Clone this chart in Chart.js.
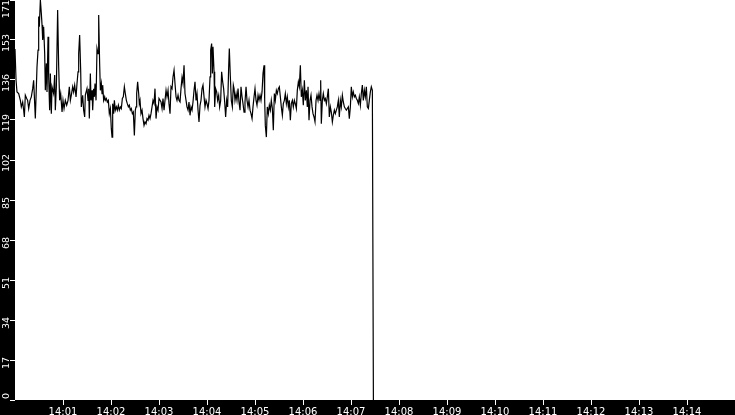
<!DOCTYPE html>
<html>
<head>
<meta charset="utf-8">
<script src="https://cdn.jsdelivr.net/npm/chart.js@4.4.1/dist/chart.umd.min.js"></script>
<style>
  html, body { margin: 0; padding: 0; background: #000; }
  canvas { display: block; }
</style>
</head>
<body>
<canvas id="rateChart" width="735" height="415"></canvas>
<script>
// seconds after 14:00:00
const secs = [
  0, 1.3, 2.5, 4.6, 6.7, 7.9, 9.6, 10.8, 11.7, 12.9,
  14.6, 15.8, 17.1, 18.8, 20.4, 22.1, 23.3, 24.6, 25.4, 26.3,
  27.5, 28.8, 29.6, 30.4, 31.7, 32.9, 33.8, 34.6, 35.8, 37.1,
  37.9, 39.2, 40, 41.3, 42.1, 43.3, 44.2, 45.4, 46.3, 48.3,
  49.6, 50.4, 51.7, 53.3, 54.6, 55.8, 57.1, 58.8, 60, 61.3,
  62.9, 64.6, 66.3, 67.9, 69.2, 70.4, 72.1, 73.3, 74.6, 76.3,
  77.5, 78.8, 79.6, 80.8, 82.1, 82.9, 84.6, 85.8, 87.1, 87.9,
  90, 91.3, 92.1, 92.9, 94.2, 95, 96.3, 97.1, 98.3, 99.2,
  100, 101.3, 102.5, 103.8, 104.6, 105.8, 106.7, 107.9, 108.8, 109.6,
  110.8, 112.1, 112.9, 114.2, 115.4, 116.7, 117.9, 119.2, 120.4, 121.3,
  122.1, 123.3, 124.2, 125.4, 126.7, 127.9, 129.2, 130.4, 131.7, 132.9,
  134.2, 135.4, 136.7, 137.9, 139.2, 140.4, 141.7, 142.9, 144.2, 145.4,
  146.7, 147.9, 149.2, 150.4, 151.3, 152.1, 153.3, 154.6, 155.4, 156.3,
  157.5, 158.8, 160, 161.3, 162.5, 163.8, 165, 166.3, 167.5, 168.8,
  170, 171.3, 172.5, 173.8, 175, 176.3, 177.5, 178.8, 180, 182.5,
  183.8, 185, 186.3, 187.5, 188.8, 190, 191.3, 192.5, 193.8, 195,
  196.3, 197.5, 198.8, 200, 201.3, 202.5, 203.8, 205, 206.3, 207.5,
  208.8, 210, 211.3, 212.5, 213.8, 215, 216.3, 217.5, 218.8, 220,
  221.3, 222.5, 223.8, 225, 226.3, 227.5, 228.8, 230, 231.3, 232.5,
  233.8, 235, 236.3, 237.5, 238.8, 240, 241.3, 242.5, 243.8, 244.6,
  245.8, 246.7, 247.5, 248.8, 249.6, 250.8, 252.1, 253.3, 254.6, 255.8,
  257.1, 258.3, 259.6, 260.8, 262.1, 263.3, 264.6, 265.8, 267.1, 267.9,
  269.2, 270.4, 271.7, 272.9, 273.8, 275, 276.3, 277.5, 278.8, 280,
  281.3, 282.5, 283.8, 285, 286.3, 287.5, 288.8, 290, 291.3, 292.5,
  293.8, 295, 296.3, 297.5, 298.8, 300, 301.3, 302.5, 303.8, 305,
  306.3, 307.5, 308.8, 310, 311.3, 312.1, 312.9, 314.2, 315.4, 316.7,
  317.9, 319.2, 320.4, 321.7, 322.9, 324.2, 325.4, 326.7, 327.9, 329.2,
  330.4, 331.7, 332.9, 334.2, 335.4, 336.7, 337.9, 339.2, 340.4, 341.7,
  342.9, 344.2, 345.4, 346.7, 347.9, 349.2, 350.4, 351.7, 352.9, 354.2,
  355.4, 356.7, 357.9, 359.2, 360.4, 361.7, 362.9, 364.2, 365.4, 366.3,
  367.5, 368.8, 370, 371.3, 372.5, 373.8, 375, 376.3, 377.5, 378.8,
  380, 381.3, 382.1, 382.9, 384.2, 385.4, 386.7, 387.9, 389.2, 390.4,
  391.7, 392.9, 394.2, 395.4, 396.7, 397.9, 399.2, 400.4, 401.7, 402.9,
  404.2, 405.4, 406.7, 407.9, 409.2, 410.4, 411.7, 412.9, 414.2, 415.4,
  416.7, 417.9, 419.2, 420.4, 421.7, 422.9, 424.2, 425.4, 426.7, 427.9,
  429.2, 430.4, 431.7, 432.9, 434.2, 435.4, 436.7, 437.9, 439.2, 440.4,
  441.7, 442.9, 444.2, 445.4, 446.7, 448
];

const vals = [
  150, 136.7, 131.7, 131, 128.1, 125.3, 127.4, 123.9, 121, 130.3,
  128.9, 128.1, 124.6, 128.1, 129.6, 133.1, 136.7, 126.7, 120.3, 129.6,
  142.4, 149.6, 163.9, 159.6, 171, 165.3, 160.3, 153.9, 159.6, 148.1,
  132.4, 143.9, 131.7, 155.3, 138.1, 123.9, 139.6, 122.4, 133.9, 131,
  138.9, 123.9, 133.9, 166.7, 142.4, 128.1, 131, 123.1, 128.1, 124.6,
  128.1, 126, 128.1, 133.9, 128.1, 130.3, 133.9, 131.7, 134.6, 129.6,
  135.3, 140.3, 148.1, 156, 141, 125.3, 130.3, 123.9, 121, 130.3,
  133.1, 128.1, 133.1, 120.3, 139.6, 128.1, 132.4, 123.9, 133.1, 129.6,
  135.3, 128.1, 150.3, 148.1, 164.6, 143.9, 132.4, 135.3, 131, 134.6,
  128.1, 129.6, 128.1, 128.9, 127.4, 128.1, 122.4, 124.6, 116, 112.4,
  126.7, 122.4, 128.1, 123.9, 125.3, 123.9, 126, 123.9, 125.3, 124.6,
  128.9, 129.6, 133.9, 131, 128.1, 126.7, 125.3, 126, 123.9, 124.6,
  122.4, 123.1, 113.1, 123.9, 125.3, 131, 136, 131, 126.7, 128.1,
  122.4, 123.9, 120.3, 117.4, 118.9, 118.1, 120.3, 119.6, 121.7, 120.3,
  122.4, 125.3, 128.1, 126.7, 133.1, 120.3, 125.3, 123.9, 128.9, 127.4,
  124.6, 128.9, 123.9, 128.1, 132.4, 129.6, 132.4, 126.7, 122.4, 133.9,
  133.1, 138.1, 141, 135.3, 129.6, 128.1, 130.3, 128.1, 127.4, 133.1,
  137.9, 135.3, 143.1, 131, 128.1, 125.3, 123.9, 127.4, 121.7, 125.3,
  123.9, 127.4, 132.4, 136, 128.1, 131, 123.9, 118.9, 126, 128.1,
  133.1, 134.6, 129.6, 125.3, 128.1, 126.7, 124.6, 128.1, 138.1, 149.6,
  152.4, 139.6, 151, 140.3, 125.3, 133.1, 131.7, 128.1, 130.3, 125.3,
  128.1, 140.3, 136, 133.1, 127.4, 121, 128.1, 125.3, 142.4, 150.3,
  138.1, 128.1, 125.3, 134.6, 133.1, 128.1, 131, 128.1, 133.1, 127.4,
  123.9, 133.9, 129.6, 126.7, 123.1, 127.4, 133.9, 128.1, 125.3, 128.1,
  123.9, 122.4, 120.3, 125.3, 129.6, 133.1, 128.1, 126, 130.3, 128.1,
  130.3, 128.1, 131.7, 139.6, 143.1, 128.1, 117.4, 112.4, 125.3, 122.4,
  126, 123.9, 128.1, 124.6, 115.3, 131, 128.1, 132.4, 131, 133.1,
  133.9, 129.6, 125.3, 121.7, 126.7, 128.1, 131, 126.7, 129.6, 125.3,
  128.1, 119.6, 126.7, 128.1, 125.3, 128.1, 126.7, 124.6, 132.4, 136,
  133.9, 143.1, 129.6, 132.4, 126, 136.7, 128.1, 132.4, 125.3, 133.9,
  119.6, 128.1, 130.3, 125.3, 122.4, 121, 118.9, 128.1, 130.3, 128.1,
  131, 128.1, 136.7, 118.1, 128.1, 131, 128.1, 128.9, 126.7, 129.6,
  133.1, 121, 125.3, 123.1, 118.9, 121.7, 123.9, 122.4, 123.9, 125.3,
  128.1, 121, 128.1, 125.3, 130.3, 127.4, 125.3, 124.6, 123.9, 124.6,
  125.3, 120.3, 125.3, 133.9, 129.6, 131.7, 129.6, 130.3, 128.9, 128.1,
  126.7, 129.6, 126, 131, 134.6, 128.1, 132.4, 129.6, 133.9, 125.3,
  124.6, 128.1, 131.7, 133.9, 132.4, 0
];

const xTickSecs = [60, 120, 180, 240, 300, 360, 420, 480, 540, 600, 660, 720, 780, 840];
const xTickLabels = ['14:01', '14:02', '14:03', '14:04', '14:05', '14:06', '14:07',
                     '14:08', '14:09', '14:10', '14:11', '14:12', '14:13', '14:14'];
const yTicks = [0, 17.1, 34.2, 51.3, 68.4, 85.5, 102.6, 119.7, 136.8, 153.9, 171];

const FONT_FAMILY = '"DejaVu Sans", sans-serif';

// black frame, white plot area
const plotBackground = {
  id: 'plotBackground',
  beforeDraw(chart) {
    const { ctx, chartArea: a } = chart;
    ctx.save();
    ctx.fillStyle = '#000';
    ctx.fillRect(0, 0, chart.width, chart.height);
    ctx.fillStyle = '#fff';
    ctx.fillRect(a.left, a.top, a.right - a.left, a.bottom - a.top);
    ctx.restore();
  }
};

// rotated y labels, sitting a little below their tick and kept inside the canvas
const yLabels = {
  id: 'yLabels',
  afterDraw(chart) {
    const { ctx, chartArea: a } = chart;
    const scale = chart.scales.y;
    ctx.save();
    ctx.font = '9.5px ' + FONT_FAMILY;
    ctx.fillStyle = '#fff';
    ctx.textAlign = 'center';
    ctx.textBaseline = 'alphabetic';
    yTicks.forEach(v => {
      const text = String(Math.floor(v));
      const half = ctx.measureText(text).width / 2;
      let y = scale.getPixelForValue(v) + 3;
      y = Math.min(Math.max(y, half), a.bottom - half - 1);
      ctx.save();
      ctx.translate(9, y);
      ctx.rotate(-Math.PI / 2);
      ctx.fillText(text, 0, 0);
      ctx.restore();
    });
    ctx.restore();
  }
};

new Chart(document.getElementById('rateChart'), {
  type: 'line',
  data: {
    datasets: [{
      data: secs.map((s, i) => ({ x: s, y: vals[i] })),
      borderColor: '#000',
      borderWidth: 1.2,
      pointRadius: 0,
      tension: 0,
      fill: false
    }]
  },
  options: {
    responsive: false,
    animation: false,
    devicePixelRatio: 1,
    layout: { padding: 0 },
    plugins: {
      legend: { display: false },
      tooltip: { enabled: false }
    },
    scales: {
      x: {
        type: 'linear',
        min: 0,
        max: 900,
        afterBuildTicks: s => { s.ticks = xTickSecs.map(v => ({ value: v })); },
        afterFit: s => { s.height = 15; s.paddingLeft = 0; s.paddingRight = 0; },
        ticks: {
          color: '#fff',
          font: { family: FONT_FAMILY, size: 10 },
          padding: 1,
          maxRotation: 0,
          autoSkip: false,
          callback: (value, index) => xTickLabels[index]
        },
        grid: { drawOnChartArea: false, color: '#fff', tickLength: 5 },
        border: { display: false }
      },
      y: {
        min: 0,
        max: 171,
        afterBuildTicks: s => { s.ticks = yTicks.map(v => ({ value: v })); },
        afterFit: s => { s.width = 15; s.paddingTop = 0; s.paddingBottom = 0; },
        ticks: { display: false },
        grid: { drawOnChartArea: false, color: '#fff', tickLength: 5 },
        border: { display: false }
      }
    }
  },
  plugins: [plotBackground, yLabels]
});
</script>
</body>
</html>
